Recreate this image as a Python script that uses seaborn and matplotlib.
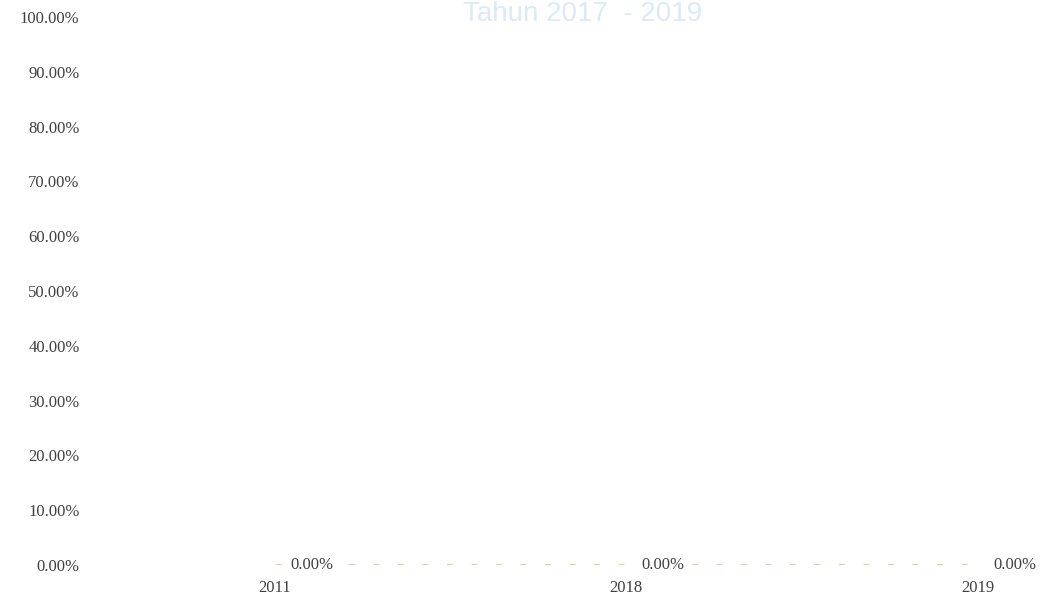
import matplotlib
matplotlib.use("Agg")
import matplotlib.pyplot as plt
import seaborn as sns
import pandas as pd
from matplotlib.ticker import PercentFormatter

years = ["2011", "2018", "2019"]
values = [0.0, 0.0, 0.0]
y_ticks = [i / 10 for i in range(11)]
title = "Tahun 2017  - 2019"

sns.set_theme(style="white")
plt.rcParams["font.family"] = ["Liberation Serif", "DejaVu Serif"]

df = pd.DataFrame({"year": years, "value": values})

fig = plt.figure(figsize=(10.46, 5.99), dpi=100)
ax = fig.add_axes([0.084, 0.0568, 0.91, 0.9148])

sns.lineplot(data=df, x="year", y="value", ax=ax, color="#f4b183",
             linewidth=1.8, linestyle=(0, (2.4, 7.4)), sort=False)

for i, v in enumerate(values):
    ax.annotate(f"{v * 100:.2f}%", (i, v), xytext=(11, 0), textcoords="offset points",
                ha="left", va="center", fontsize=12, color="#404040",
                bbox=dict(boxstyle="square,pad=0.1", fc="white", ec="none"),
                zorder=5)

ax.set_xlim(-0.532, 2.176)
ax.set_ylim(0, 1)
ax.set_yticks(y_ticks)
ax.yaxis.set_major_formatter(PercentFormatter(1.0, decimals=2))
ax.tick_params(axis="y", length=0, pad=6, labelsize=12, labelcolor="#404040")
ax.tick_params(axis="x", length=0, pad=11, labelsize=12, labelcolor="#404040")
ax.set_xlabel("")
ax.set_ylabel("")
for s in ax.spines.values():
    s.set_visible(False)

fig.text(0.557, 1 - 21 / 599, title, ha="center", va="baseline", fontsize=20,
         color="#dbeaf9", family=["Liberation Sans", "DejaVu Sans"])

fig.savefig("out.png", dpi=100)
